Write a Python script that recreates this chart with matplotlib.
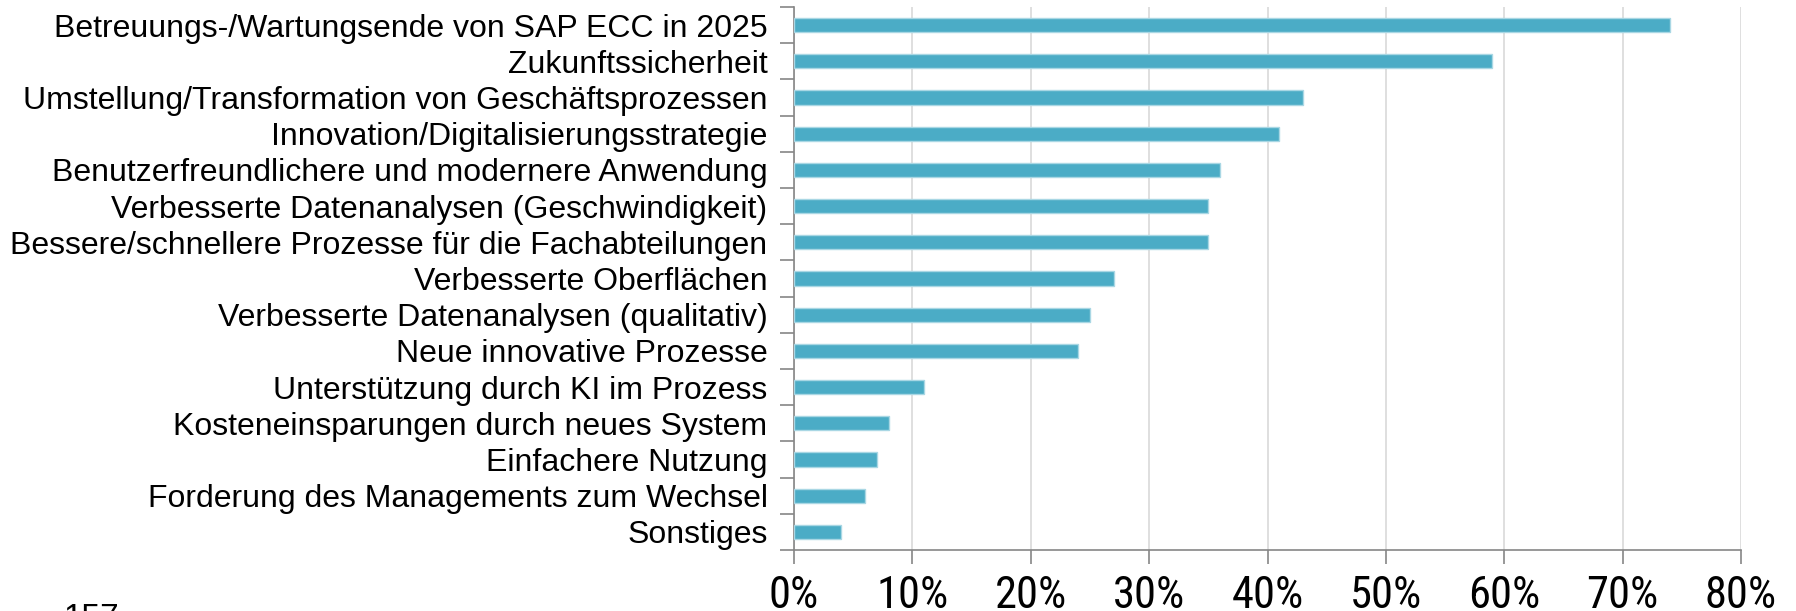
import numpy as np
import matplotlib
matplotlib.use("Agg")
import matplotlib.pyplot as plt
import matplotlib.font_manager as fm
from matplotlib.ticker import FixedLocator, PercentFormatter

# survey answers (percent of respondents)
categories = [
    "Betreuungs-/Wartungsende von SAP ECC in 2025",
    "Zukunftssicherheit",
    "Umstellung/Transformation von Geschäftsprozessen",
    "Innovation/Digitalisierungsstrategie",
    "Benutzerfreundlichere und modernere Anwendung",
    "Verbesserte Datenanalysen (Geschwindigkeit)",
    "Bessere/schnellere Prozesse für die Fachabteilungen",
    "Verbesserte Oberflächen",
    "Verbesserte Datenanalysen (qualitativ)",
    "Neue innovative Prozesse",
    "Unterstützung durch KI im Prozess",
    "Kosteneinsparungen durch neues System",
    "Einfachere Nutzung",
    "Forderung des Managements zum Wechsel",
    "Sonstiges",
]
values = [74, 59, 43, 41, 36, 35, 35, 27, 25, 24, 11, 8, 7, 6, 4]
xticks = [0, 10, 20, 30, 40, 50, 60, 70, 80]
footnote = "157"

# the percent labels are drawn narrow in the original - look for a condensed face
names = set(f.name for f in fm.fontManager.ttflist)
narrow = None
for cand in ["Liberation Sans Narrow", "Arial Narrow", "Roboto Condensed"]:
    if cand in names:
        narrow = cand
        break
if narrow is None:
    for f in fm.fontManager.ttflist:
        if f.name == "DejaVu Sans" and f.stretch in ("condensed", 300):
            narrow = f.name
            break

W, H = 1796, 611
fig = plt.figure(figsize=(W / 100, H / 100), dpi=100)
# axes box in pixels: x 794..1741, y 7..550
ax = fig.add_axes([794 / W, 1 - 550 / H, (1741 - 794) / W, (550 - 7) / H])

n = len(categories)
ypos = np.arange(n)
ax.barh(ypos, values, height=0.39, color="#4BACC6", edgecolor="#A9D7E4",
        linewidth=1, zorder=3)

ax.set_xlim(0, 80)
ax.set_ylim(n - 0.5, -0.5)

ax.set_xticks(xticks)
ax.xaxis.set_major_formatter(PercentFormatter(decimals=0))
ax.grid(axis="x", color="#D9D9D9", linewidth=1.2, zorder=0)

ax.set_yticks(ypos)
ax.set_yticklabels(categories, fontsize=23, family="Liberation Sans")
ax.yaxis.set_minor_locator(FixedLocator(np.arange(-0.5, n, 1.0)))
ax.tick_params(axis="y", which="major", length=0, pad=19)
ax.tick_params(axis="y", which="minor", length=10, width=1.2, color="#868686")
ax.tick_params(axis="x", length=10, width=1.2, color="#868686", pad=8)
for lbl in ax.get_xticklabels():
    if narrow:
        lbl.set_family(narrow)
        lbl.set_stretch("condensed")
        lbl.set_fontsize(32)
    else:
        lbl.set_family("Liberation Sans")
        lbl.set_fontsize(28)

for side in ["top", "right"]:
    ax.spines[side].set_visible(False)
for side in ["left", "bottom"]:
    ax.spines[side].set_color("#868686")
    ax.spines[side].set_linewidth(1.2)

fig.text(63 / W, 1 - 603 / H, footnote, va="top", ha="left", fontsize=24,
         family="Liberation Sans")

fig.savefig("out.png", dpi=100)
